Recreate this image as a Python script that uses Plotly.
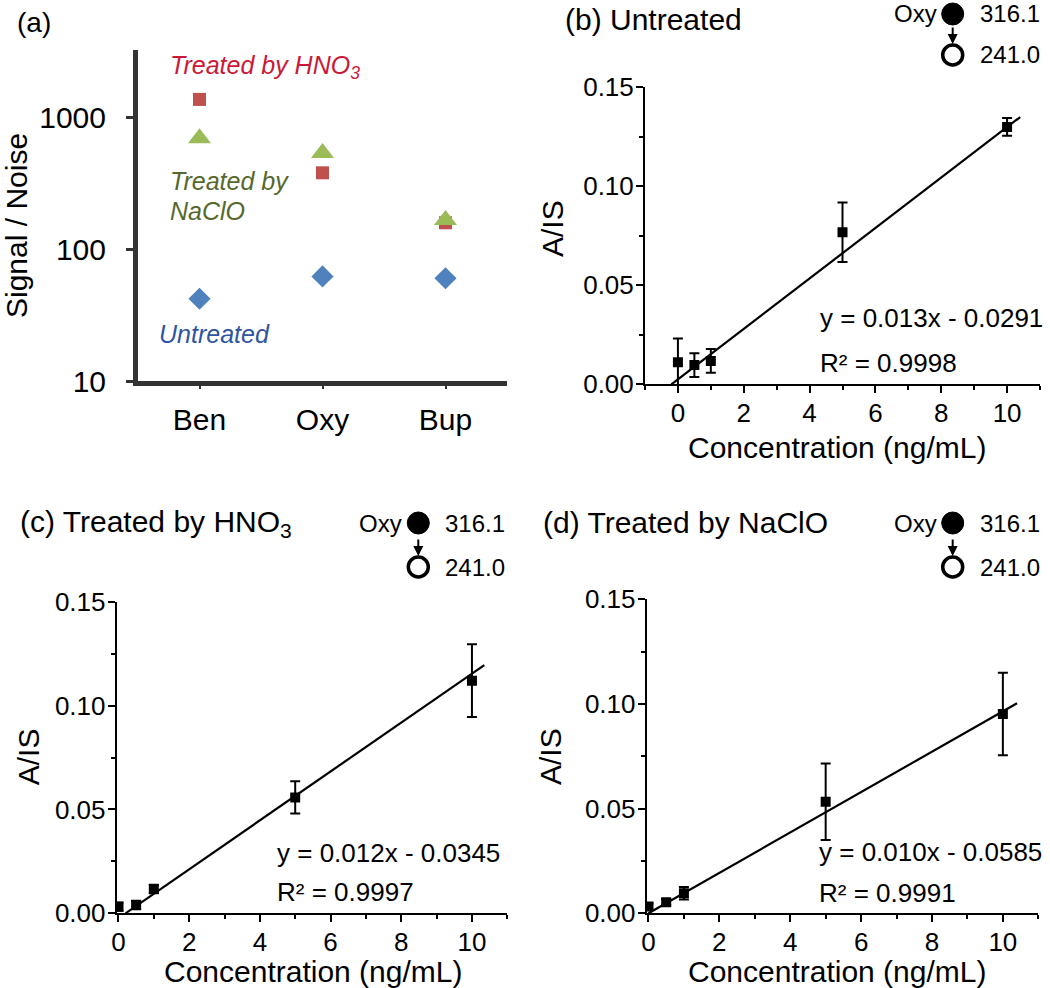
import plotly.graph_objects as go

W, H = 1050, 988
FONT = "Liberation Sans, Arial, sans-serif"

# panel (a): signal to noise
drugs = ["Ben", "Oxy", "Bup"]
sn_hno3 = [1360, 378, 158]
sn_naclo = [690, 533, 166]
sn_untreated = [42, 62, 60]

# panels (b)-(d): calibration curves for Oxy
conc = [0, 0.5, 1, 5, 10]
ais_untreated = [0.0111, 0.0097, 0.0118, 0.0768, 0.130]
err_untreated = [0.012, 0.006, 0.006, 0.015, 0.0045]
ais_hno3 = [0.0032, 0.0040, 0.0117, 0.0558, 0.112]
err_hno3 = [0.002, 0.002, 0.002, 0.0078, 0.0175]
ais_naclo = [0.0032, 0.0053, 0.0096, 0.0533, 0.0952]
err_naclo = [0.0015, 0.0015, 0.003, 0.0183, 0.0197]

# fitted lines as drawn (slope, intercept, x start, x end)
fit_untreated = (0.01274, 0.0025, -0.2, 10.4)
fit_hno3 = (0.01177, -0.00235, 0.2, 10.35)
fit_naclo = (0.00965, 0.0, 0.0, 10.4)

equations = ["y = 0.013x - 0.0291", "y = 0.012x - 0.0345", "y = 0.010x - 0.0585"]
r2_texts = ["R² = 0.9998", "R² = 0.9997", "R² = 0.9991"]
titles = ["(b) Untreated", "(c) Treated by HNO<sub>3</sub>", "(d) Treated by NaClO"]


def px(x):
    return x / W


def py(y):
    return 1 - y / H


fig = go.Figure()

# ---- panel (a)
fig.add_trace(go.Scatter(x=drugs, y=sn_hno3, mode="markers", xaxis="x", yaxis="y",
                         marker=dict(symbol="square", size=13, color="#C0504D")))
fig.add_trace(go.Scatter(x=drugs, y=sn_naclo, mode="markers", xaxis="x", yaxis="y",
                         marker=dict(symbol="triangle-up", size=20, color="#9BBB59")))
fig.add_trace(go.Scatter(x=drugs, y=sn_untreated, mode="markers", xaxis="x", yaxis="y",
                         marker=dict(symbol="diamond", size=17, color="#4F81BD")))

# ---- panels (b), (c), (d)
panels = [
    (ais_untreated, err_untreated, fit_untreated, "x2", "y2"),
    (ais_hno3, err_hno3, fit_hno3, "x3", "y3"),
    (ais_naclo, err_naclo, fit_naclo, "x4", "y4"),
]
for ys, errs, fit, xa, ya in panels:
    m, b, x0, x1 = fit
    fig.add_trace(go.Scatter(x=[x0, x1], y=[m * x0 + b, m * x1 + b], mode="lines",
                             xaxis=xa, yaxis=ya, line=dict(color="black", width=2.2)))
    fig.add_trace(go.Scatter(x=conc, y=ys, mode="markers", xaxis=xa, yaxis=ya,
                             marker=dict(symbol="square", size=10, color="black"),
                             error_y=dict(type="data", array=errs, color="black",
                                          thickness=2, width=5)))

tick_font = dict(family=FONT, size=26, color="black")


def calib_axes(xdom, ydom, xrange):
    xa = dict(domain=xdom, range=xrange, showgrid=False, zeroline=False, automargin=False,
              showline=True, linecolor="black", linewidth=2,
              ticks="outside", ticklen=7, tickwidth=2, tickcolor="black",
              tickvals=[0, 2, 4, 6, 8, 10], tickfont=tick_font, ticklabelstandoff=-3,
              minor=dict(ticks="outside", ticklen=4, tickwidth=2, tickcolor="black", dtick=1))
    ya = dict(domain=ydom, range=[0, 0.15], showgrid=False, zeroline=False, automargin=False,
              showline=True, linecolor="black", linewidth=2,
              ticks="outside", ticklen=7, tickwidth=2, tickcolor="black",
              tickvals=[0, 0.05, 0.10, 0.15], ticktext=["0.00", "0.05", "0.10", "0.15"],
              tickfont=tick_font, ticklabelstandoff=-3,
              minor=dict(ticks="outside", ticklen=4, tickwidth=2, tickcolor="black", dtick=0.025))
    return xa, ya


xa2, ya2 = calib_axes([px(645), px(1040)], [py(384.3), py(87.3)], [-1, 11])
xa3, ya3 = calib_axes([px(116.7), px(507.3)], [py(913.3), py(601.7)], [-0.05, 11])
xa4, ya4 = calib_axes([px(646.7), px(1038.3)], [py(913.3), py(599.3)], [-0.05, 11])
xa2["anchor"], ya2["anchor"] = "y2", "x2"
xa3["anchor"], ya3["anchor"] = "y3", "x3"
xa4["anchor"], ya4["anchor"] = "y4", "x4"

fig.update_layout(
    width=W, height=H, autosize=False,
    margin=dict(l=0, r=0, t=0, b=0),
    paper_bgcolor="white", plot_bgcolor="white",
    showlegend=False,
    font=dict(family=FONT, color="black"),
    xaxis=dict(domain=[px(138), px(507)], range=[-0.5, 2.5], type="category", automargin=False,
               showgrid=False, zeroline=False, showline=True, linecolor="#333333", linewidth=5,
               ticks="outside", ticklen=3, tickwidth=2, tickcolor="#333333",
               ticklabelstandoff=5, tickfont=dict(family=FONT, size=30, color="black"),
               anchor="y"),
    yaxis=dict(domain=[py(381), py(50)], type="log", range=[1, 3.508], automargin=False,
               showgrid=False, zeroline=False, showline=True, linecolor="#333333", linewidth=5,
               ticks="outside", ticklen=7, tickwidth=3, tickcolor="#333333",
               tickvals=[10, 100, 1000], ticktext=["10", "100", "1000"],
               ticklabelstandoff=14, tickfont=dict(family=FONT, size=30, color="black"),
               anchor="x"),
    xaxis2=xa2, yaxis2=ya2, xaxis3=xa3, yaxis3=ya3, xaxis4=xa4, yaxis4=ya4,
)

ann = []


def text(x, y, s, size, color="black", anchor="left", italic=False, angle=0):
    ann.append(dict(x=px(x), y=py(y), xref="paper", yref="paper", text=s,
                    showarrow=False, xanchor=anchor, yanchor="middle", textangle=angle,
                    font=dict(family=FONT, size=size, color=color,
                              style="italic" if italic else "normal")))


# panel (a) labels
text(15, 22, "(a)", 28)
text(16, 226, "Signal / Noise", 30, anchor="center", angle=-90)
text(168, 67, "Treated by HNO<sub>3</sub>", 25, color="#CC1836", italic=True)
text(168, 181, "Treated by", 25, color="#56682C", italic=True)
text(168, 211, "NaClO", 25, color="#56682C", italic=True)
text(157, 334, "Untreated", 25, color="#2E55A0", italic=True)

# calibration panels text
title_pos = [(563, 20), (18, 523), (541, 522)]
xtitle_pos = [(836.7, 447), (312.5, 971), (836.7, 971)]
ytitle_pos = [(552, 229), (28.3, 757), (550, 757)]
eq_pos = [(818, 318, 363), (275, 853, 892), (817, 852, 893)]
icon_pos = [(952.7, 14, 55), (418.3, 523, 567), (952.7, 523, 567)]

for i in range(3):
    tx, ty = title_pos[i]
    text(tx, ty, titles[i], 30)
    cx, cy = xtitle_pos[i]
    text(cx, cy, "Concentration (ng/mL)", 30, anchor="center")
    ax_, ay_ = ytitle_pos[i]
    text(ax_, ay_, "A/IS", 30, anchor="center", angle=-90)
    ex, ey1, ey2 = eq_pos[i]
    text(ex, ey1, equations[i], 26)
    text(ex, ey2, r2_texts[i], 26)

    # Oxy transition icon
    ix, iy1, iy2 = icon_pos[i]
    text(ix - 14, iy1, "Oxy", 24, anchor="right")
    text(ix + 25, iy1, "316.1", 24)
    text(ix + 25, iy2, "241.0", 24)
    ann.append(dict(x=px(ix), y=py(iy2 - 11), xref="paper", yref="paper",
                    ax=0, ay=-18, axref="pixel", ayref="pixel", text="",
                    showarrow=True, arrowhead=2, arrowsize=1, arrowwidth=2,
                    arrowcolor="black"))
    fig.add_shape(type="circle", xref="paper", yref="paper",
                  x0=px(ix - 11), x1=px(ix + 11), y0=py(iy1 + 11), y1=py(iy1 - 11),
                  fillcolor="black", line=dict(color="black", width=1))
    fig.add_shape(type="circle", xref="paper", yref="paper",
                  x0=px(ix - 10), x1=px(ix + 10), y0=py(iy2 + 10), y1=py(iy2 - 10),
                  fillcolor="white", line=dict(color="black", width=3.5))

fig.update_layout(annotations=ann)

fig.write_html("out.html", config={"displayModeBar": False},
               post_script="document.body.style.margin='0';")
